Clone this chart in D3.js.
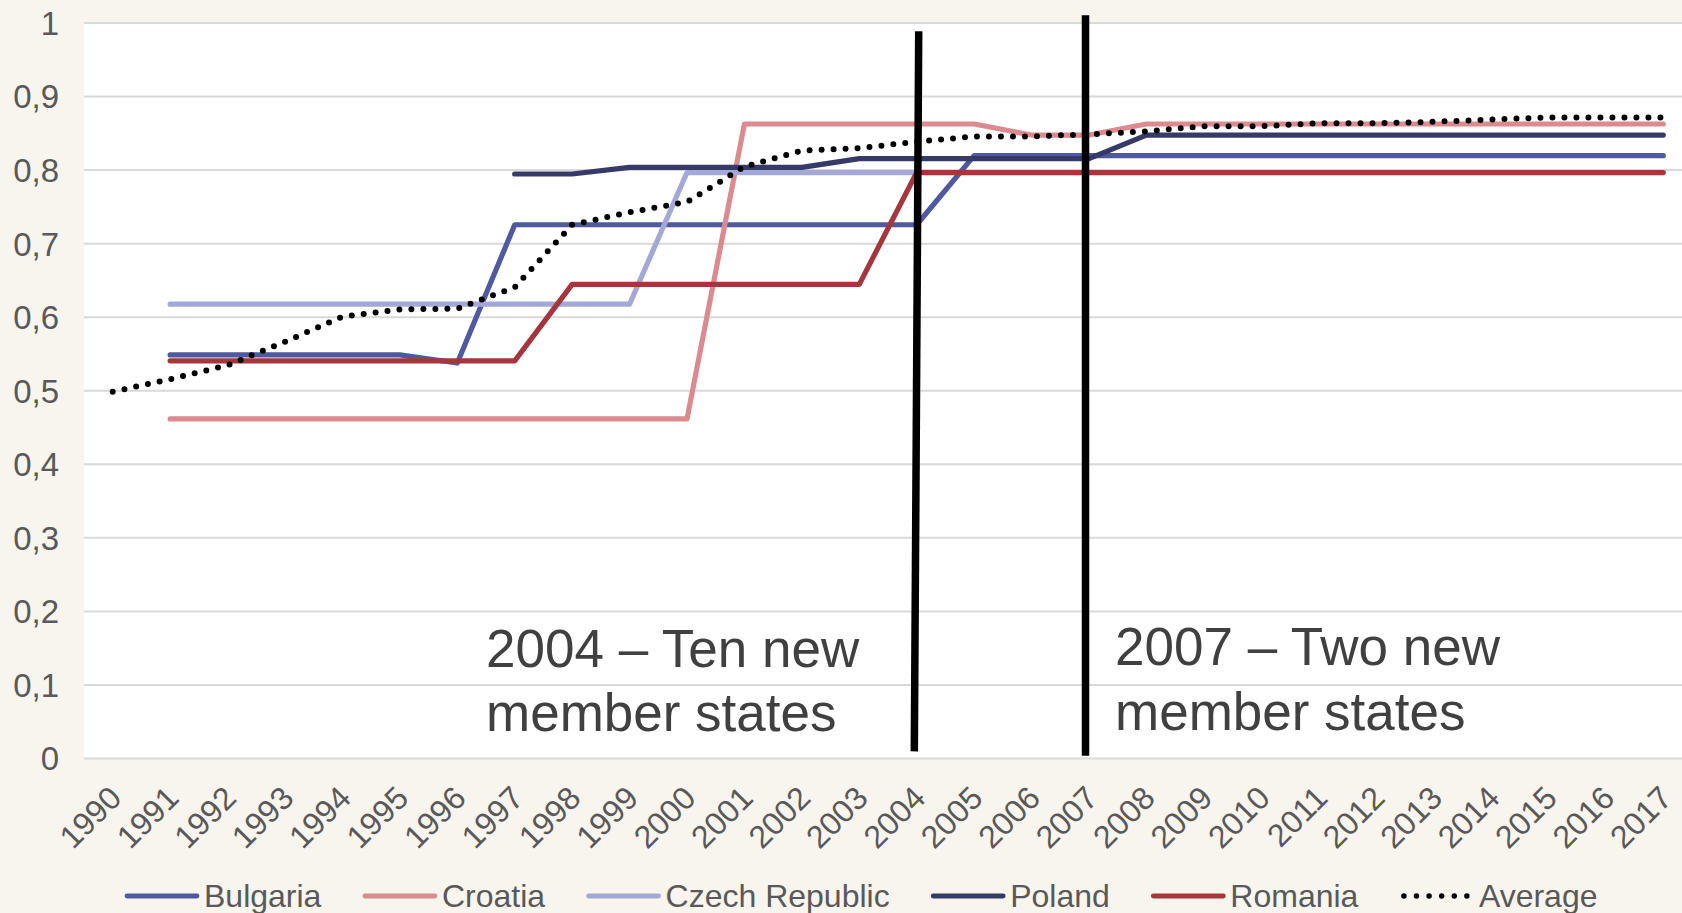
<!DOCTYPE html>
<meta charset="utf-8">
<head>
  <meta charset="utf-8">
  <script src="https://d3js.org/d3.v7.min.js"></script>
  <style>
    body { margin: 0; background: #f8f4ee; }
    svg { display: block; font-family: "Liberation Sans", Arial, sans-serif; }
  </style>
</head>
<body>
<svg width="1682" height="913"></svg>
<script>
// categories
var years = ["1990","1991","1992","1993","1994","1995","1996","1997","1998","1999",
             "2000","2001","2002","2003","2004","2005","2006","2007","2008","2009",
             "2010","2011","2012","2013","2014","2015","2016","2017"];

// series values (null = no data)
var bulgaria = [null, 0.548, 0.548, 0.548, 0.548, 0.548, 0.537, 0.725, 0.725, 0.725,
                0.725, 0.725, 0.725, 0.725, 0.725, 0.819, 0.819, 0.819, 0.819, 0.819,
                0.819, 0.819, 0.819, 0.819, 0.819, 0.819, 0.819, 0.819];
var croatia  = [null, 0.461, 0.461, 0.461, 0.461, 0.461, 0.461, 0.461, 0.461, 0.461,
                0.461, 0.862, 0.862, 0.862, 0.862, 0.862, 0.847, 0.847, 0.862, 0.862,
                0.862, 0.862, 0.862, 0.862, 0.862, 0.862, 0.862, 0.862];
var czech    = [null, 0.617, 0.617, 0.617, 0.617, 0.617, 0.617, 0.617, 0.617, 0.617,
                0.796, 0.796, 0.796, 0.796, 0.796, null, null, null, null, null,
                null, null, null, null, null, null, null, null];
var poland   = [null, null, null, null, null, null, null, 0.794, 0.794, 0.803,
                0.803, 0.803, 0.803, 0.815, 0.815, 0.815, 0.815, 0.815, 0.847, 0.847,
                0.847, 0.847, 0.847, 0.847, 0.847, 0.847, 0.847, 0.847];
var romania  = [null, 0.540, 0.540, 0.540, 0.540, 0.540, 0.540, 0.540, 0.644, 0.644,
                0.644, 0.644, 0.644, 0.644, 0.796, 0.796, 0.796, 0.796, 0.796, 0.796,
                0.796, 0.796, 0.796, 0.796, 0.796, 0.796, 0.796, 0.796];
var average  = [0.498, 0.515, 0.534, 0.566, 0.600, 0.610, 0.611, 0.640, 0.725, 0.742,
                0.756, 0.804, 0.826, 0.829, 0.838, 0.845, 0.845, 0.848, 0.852, 0.859,
                0.859, 0.863, 0.863, 0.865, 0.868, 0.871, 0.871, 0.871];

// y ticks
var yTicks = [0, 0.1, 0.2, 0.3, 0.4, 0.5, 0.6, 0.7, 0.8, 0.9, 1];
var yTickLabels = ["0", "0,1", "0,2", "0,3", "0,4", "0,5", "0,6", "0,7", "0,8", "0,9", "1"];

// accession markers
var markerYears = ["2004", "2007"];
var markerNotes = [["2004 \u2013 Ten new", "member states"], ["2007 \u2013 Two new", "member states"]];

var series = [
  {name: "Bulgaria", values: bulgaria, color: "#5058a0"},
  {name: "Croatia", values: croatia, color: "#db8b90"},
  {name: "Czech Republic", values: czech, color: "#a4a8d6"},
  {name: "Poland", values: poland, color: "#363a66"},
  {name: "Romania", values: romania, color: "#a5363e"},
  {name: "Average", values: average, color: "#000000", dotted: true}
];

var svg = d3.select("svg");
var plotLeft = 84, plotRight = 1692;
var fontFam = "'Liberation Sans', Arial, sans-serif";

var x = d3.scalePoint().domain(years).range([plotLeft, plotRight]).padding(0.5);
var y = d3.scaleLinear().domain([0, 1]).range([758, 22.5]);

// plot background
svg.append("rect")
  .attr("x", plotLeft).attr("y", y(1))
  .attr("width", plotRight - plotLeft).attr("height", y(0) - y(1))
  .attr("fill", "#ffffff");

// y axis + gridlines
var yAxis = svg.append("g")
  .attr("transform", "translate(" + plotLeft + ",0)")
  .call(d3.axisLeft(y).tickValues(yTicks)
    .tickFormat(function(d, i) { return yTickLabels[i]; })
    .tickSize(-(plotRight - plotLeft)).tickPadding(25));
yAxis.select(".domain").remove();
yAxis.selectAll("line").attr("stroke", "#d9d9d9").attr("stroke-width", 2);
yAxis.selectAll("text")
  .attr("fill", "#595959").attr("font-size", 33).attr("dy", "0.36em")
  .style("font-family", fontFam);

// x axis labels (rotated)
var xAxis = svg.append("g")
  .attr("transform", "translate(0," + y(0) + ")")
  .call(d3.axisBottom(x).tickSize(0));
xAxis.select(".domain").remove();
xAxis.selectAll("text")
  .attr("y", null).attr("dy", null)
  .attr("text-anchor", "end")
  .attr("transform", "translate(10,42) rotate(-45)")
  .attr("fill", "#595959").attr("font-size", 32)
  .style("font-family", fontFam);

// series lines
var line = d3.line()
  .defined(function(d) { return d.v != null; })
  .x(function(d) { return x(d.year); })
  .y(function(d) { return y(d.v); });

series.forEach(function(s) {
  var pts = years.map(function(yr, i) { return {year: yr, v: s.values[i]}; });
  var p = svg.append("path")
    .datum(pts)
    .attr("d", line)
    .attr("fill", "none")
    .attr("stroke", s.color)
    .attr("stroke-linejoin", "round")
    .attr("stroke-linecap", "round");
  if (s.dotted) {
    p.attr("stroke-width", 6).attr("stroke-dasharray", "0,12");
  } else {
    p.attr("stroke-width", 5.2);
  }
});

// accession marker lines
var markerTop = [0.988, 1.01], markerBottom = [0.009, 0.003];
var markerDx = [[2, -2.4], [-3.5, -3.5]];
markerYears.forEach(function(yr, i) {
  svg.append("line")
    .attr("x1", x(yr) + markerDx[i][0]).attr("y1", y(markerTop[i]))
    .attr("x2", x(yr) + markerDx[i][1]).attr("y2", y(markerBottom[i]))
    .attr("stroke", "#000").attr("stroke-width", 7.5);
});

// annotation texts
var noteX = [486, 1115], noteY = [666.5, 665];
markerNotes.forEach(function(lines, i) {
  var t = svg.append("text")
    .attr("x", noteX[i]).attr("y", noteY[i])
    .attr("font-size", 53).attr("fill", "#404040");
  lines.forEach(function(l, j) {
    t.append("tspan").attr("x", noteX[i]).attr("dy", j == 0 ? 0 : 64.5).text(l);
  });
});

// legend
var legend = svg.append("g");
var lx = 127, ly = 896;
series.forEach(function(s) {
  var g = legend.append("g");
  var seg = g.append("line")
    .attr("x1", lx).attr("x2", lx + 70).attr("y1", ly).attr("y2", ly)
    .attr("stroke", s.color).attr("stroke-linecap", "round");
  if (s.dotted) {
    seg.attr("stroke-width", 5.5).attr("stroke-dasharray", "0,12.6")
       .attr("x1", lx + 2).attr("x2", lx + 66);
  } else {
    seg.attr("stroke-width", 4.8);
  }
  var t = g.append("text")
    .attr("x", lx + 77).attr("y", ly + 11)
    .attr("font-size", 32).attr("fill", "#595959")
    .text(s.name);
  lx = lx + 77 + t.node().getComputedTextLength() + 43.5;
});
</script>
</body>
